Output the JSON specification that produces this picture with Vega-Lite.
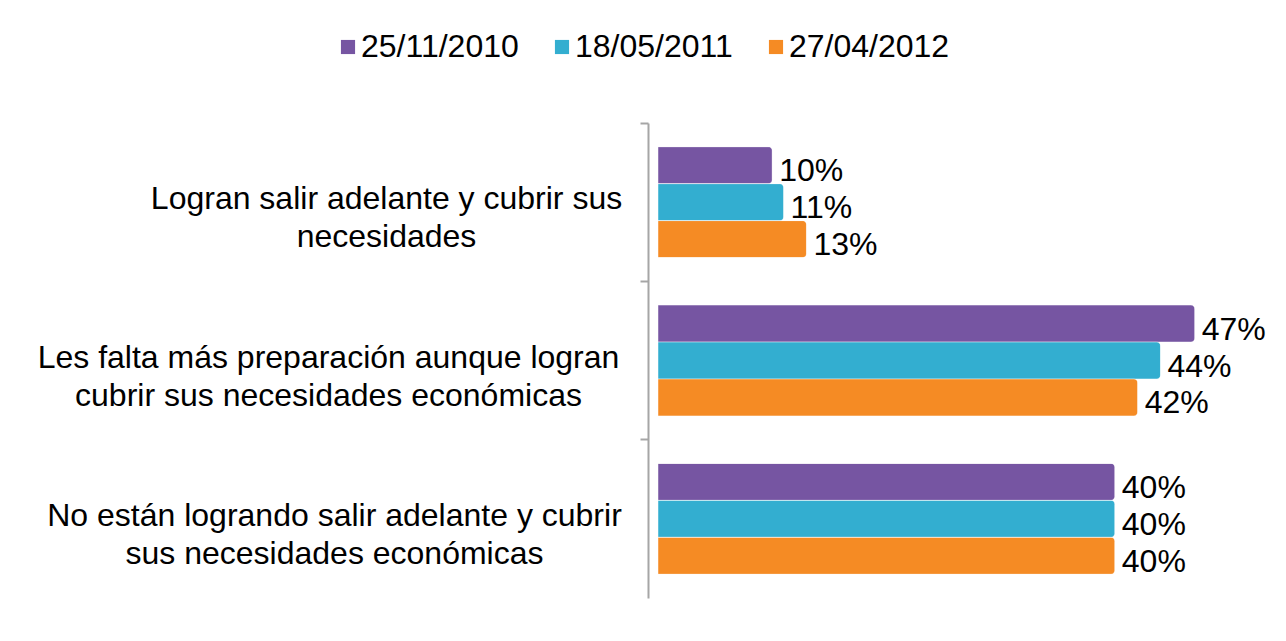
{
  "$schema": "https://vega.github.io/schema/vega-lite/v6.json",
  "autosize": {"type": "none"},
  "width": 571,
  "height": 475,
  "padding": {"left": 658, "top": 123, "right": 57, "bottom": 43},
  "background": "white",
  "config": {
    "view": {"stroke": null},
    "font": "Liberation Sans",
    "text": {"font": "Liberation Sans"}
  },
  "data": {
    "values": [
      {"categoria": "Logran salir adelante y cubrir sus necesidades", "fecha": "25/11/2010", "valor": 0.10},
      {"categoria": "Logran salir adelante y cubrir sus necesidades", "fecha": "18/05/2011", "valor": 0.11},
      {"categoria": "Logran salir adelante y cubrir sus necesidades", "fecha": "27/04/2012", "valor": 0.13},
      {"categoria": "Les falta más preparación aunque logran cubrir sus necesidades económicas", "fecha": "25/11/2010", "valor": 0.47},
      {"categoria": "Les falta más preparación aunque logran cubrir sus necesidades económicas", "fecha": "18/05/2011", "valor": 0.44},
      {"categoria": "Les falta más preparación aunque logran cubrir sus necesidades económicas", "fecha": "27/04/2012", "valor": 0.42},
      {"categoria": "No están logrando salir adelante y cubrir sus necesidades económicas", "fecha": "25/11/2010", "valor": 0.40},
      {"categoria": "No están logrando salir adelante y cubrir sus necesidades económicas", "fecha": "18/05/2011", "valor": 0.40},
      {"categoria": "No están logrando salir adelante y cubrir sus necesidades económicas", "fecha": "27/04/2012", "valor": 0.40}
    ]
  },
  "encoding": {
    "y": {
      "field": "categoria",
      "type": "nominal",
      "sort": [
        "Logran salir adelante y cubrir sus necesidades",
        "Les falta más preparación aunque logran cubrir sus necesidades económicas",
        "No están logrando salir adelante y cubrir sus necesidades económicas"
      ],
      "scale": {"paddingInner": 0.3, "paddingOuter": 0.15},
      "axis": {
        "title": null,
        "offset": 10,
        "domainColor": "#A6A6A6",
        "domainWidth": 2,
        "tickColor": "#A6A6A6",
        "tickWidth": 2,
        "tickSize": 8,
        "bandPosition": -0.214,
        "labelFont": "Liberation Sans",
        "labelFontSize": 32,
        "labelColor": "#000000",
        "labelAlign": "center",
        "labelBaseline": "middle",
        "labelLineHeight": 38,
        "labelLimit": 0,
        "labelOffset": -3,
        "labelPadding": {
          "condition": [
            {"test": "indexof(datum.value, 'Logran') == 0", "value": 254},
            {"test": "indexof(datum.value, 'Les') == 0", "value": 312}
          ],
          "value": 306
        },
        "labelExpr": "indexof(datum.value, 'Logran') == 0 ? ['Logran salir adelante y cubrir sus', 'necesidades'] : indexof(datum.value, 'Les') == 0 ? ['Les falta más preparación aunque logran', 'cubrir sus necesidades económicas'] : ['No están logrando salir adelante y cubrir', 'sus necesidades económicas']"
      }
    },
    "yOffset": {
      "field": "fecha",
      "type": "nominal",
      "sort": ["25/11/2010", "18/05/2011", "27/04/2012"]
    },
    "x": {
      "field": "valor",
      "type": "quantitative",
      "scale": {"domain": [0, 0.5]},
      "axis": null
    }
  },
  "layer": [
    {
      "mark": {"type": "bar", "cornerRadiusEnd": 4, "stroke": "#FFFFFF", "strokeOpacity": 0.25, "strokeWidth": 1},
      "encoding": {
        "color": {
          "field": "fecha",
          "type": "nominal",
          "sort": ["25/11/2010", "18/05/2011", "27/04/2012"],
          "scale": {"range": ["#7655A2", "#33AED0", "#F58B24"]},
          "legend": {
            "title": null,
            "orient": "none",
            "direction": "horizontal",
            "legendX": -326,
            "legendY": -92,
            "symbolType": "square",
            "symbolSize": 200,
            "symbolStrokeWidth": 0,
            "labelFont": "Liberation Sans",
            "labelFontSize": 32,
            "labelColor": "#000000",
            "labelOffset": -3,
            "columnPadding": 27,
            "labelLimit": 0
          }
        }
      }
    },
    {
      "mark": {"type": "text", "align": "left", "baseline": "middle", "dx": 7, "dy": 6, "fontSize": 32, "font": "Liberation Sans", "color": "#000000"},
      "encoding": {
        "text": {"field": "valor", "type": "quantitative", "format": ".0%"}
      }
    }
  ]
}
